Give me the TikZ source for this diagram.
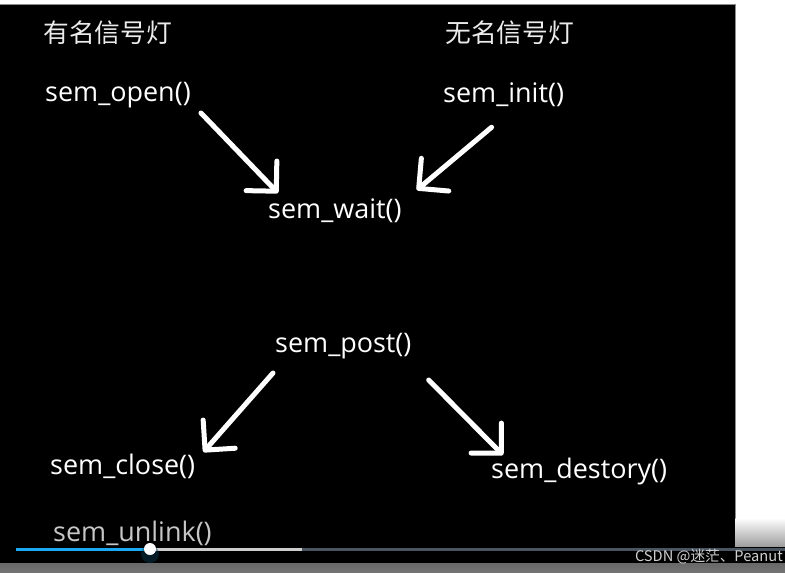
\documentclass[tikz,border=0pt]{standalone}
\usepackage{fontspec}
\setmainfont{Open Sans}
\newfontfamily\cjkfont{Noto Sans CJK SC}
\usetikzlibrary{arrows.meta, positioning}
\definecolor{barblue}{RGB}{26,170,240}
\definecolor{barlight}{RGB}{205,205,205}
\definecolor{bardark}{RGB}{75,85,97}
\definecolor{panelgray}{RGB}{105,105,105}
\definecolor{framegray}{RGB}{140,140,140}

\begin{document}
\begin{tikzpicture}[
    x=0.3mm, y=-0.3mm,
    call/.style={anchor=west, inner sep=0pt, text=white, font=\fontsize{23}{28}\selectfont},
    title/.style={anchor=west, inner sep=0pt, text=white!92!black, font=\cjkfont\fontsize{22}{26}\selectfont},
    hand/.style={-{Straight Barb[length=6.4mm, width=12.8mm, round]}, white, line width=1.5mm, line cap=round}
]
    \useasboundingbox (0,0) rectangle (785,572);

    % Screen and player frame
    \fill[white] (0,0) rectangle (785,572);
    \fill[black] (0,5) rectangle (735,552);
    \draw[framegray, line width=0.3mm] (0,5) -- (735,5) -- (735,548);
    \shade[top color=white, bottom color=black!40] (735.5,518) rectangle (785,548);
    \fill[black] (0,547) rectangle (785,563);
    \shade[top color=panelgray, bottom color=black!55] (0,563) rectangle (785,572);

    % Titles
    \node[title] (named) at (43,33) {有名信号灯};
    \node[title] (unnamed) at (445,33) {无名信号灯};

    % Calls
    \node[call] (open) at (45,95) {sem\_open()};
    \node[call] (init) at (443,95) {sem\_init()};
    \node[call] (wait) at (268,211) {sem\_wait()};
    \node[call] (post) at (275,346) {sem\_post()};
    \node[call] (close) at (50,466) {sem\_close()};
    \node[call] (destory) at (491,471) {sem\_destory()};
    \node[call, text=black!22] (unlink) at (53,533) {sem\_unlink()};

    % Hand drawn arrows
    \draw[hand] ([shift={(10,18)}]open.east) -- ([shift={(10,-18)}]wait.west);
    \draw[hand] ([shift={(-12,20)}]init.south) -- ([shift={(15,-21)}]wait.east);
    \draw[hand] ([shift={(-2,27)}]post.west) -- ([shift={(8,-14)}]close.east);
    \draw[hand] ([shift={(17,34)}]post.east) -- ([shift={(12,-16)}]destory.west);

    % Progress bar
    \fill[bardark] (302,547.5) rectangle (785,550.5);
    \fill[barlight] (150,547.5) rectangle (302,550.5);
    \fill[barblue] (16,547.5) rectangle (150,550.5);
    \fill[barblue!35!black, opacity=0.45] (150,554) circle (9);
    \fill[white] (150,549) circle (6);

    % Watermark
    \node[anchor=east, inner sep=0pt, text=black!18, font=\cjkfont\fontsize{12.5}{14}\selectfont] (mark) at (783,557) {CSDN @迷茫、Peanut};
\end{tikzpicture}
\end{document}
